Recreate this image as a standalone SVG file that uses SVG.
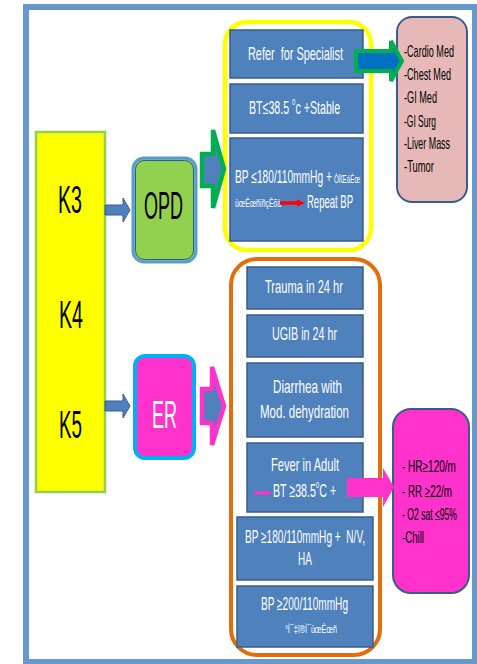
<svg xmlns="http://www.w3.org/2000/svg" width="477" height="664" viewBox="0 0 477 664">
<style>
text{font-family:"Liberation Sans",Arial,sans-serif}
.bx{fill:#4f81bd;stroke:#385d8a;stroke-width:1.5}
.wt{fill:#ffffff;font-size:19px}
.wm{fill:#ffffff;font-size:18px}
.gb{fill:#ffffff;font-size:10px}
.bk{fill:#000000;font-size:16px}
.big{font-size:39px}
.sm{fill:#4f81bd;stroke:#385d8a;stroke-width:1}
</style>
<rect x="0" y="0" width="477" height="664" fill="#ffffff"/>
<rect id="frame" x="26" y="7" width="449" height="655" fill="none" stroke="#6699cc" stroke-width="6"/>

<g id="levels">
<rect x="36" y="132" width="69" height="360" fill="#ffff00" stroke="#92d050" stroke-width="2.5"/>
<text class="big" transform="translate(58,213) scale(0.5,1)" textLength="48" lengthAdjust="spacingAndGlyphs">K3</text>
<text class="big" transform="translate(59,328) scale(0.5,1)" textLength="48" lengthAdjust="spacingAndGlyphs">K4</text>
<text class="big" transform="translate(59,438) scale(0.5,1)" textLength="46" lengthAdjust="spacingAndGlyphs">K5</text>
</g>

<g id="opd">
<rect x="133" y="158" width="63" height="104" rx="11" fill="#92d050" stroke="#5b9bd5" stroke-width="3"/>
<rect x="135.5" y="160.5" width="58" height="99" rx="9" fill="none" stroke="#1f5fa0" stroke-width="1"/>
<text transform="translate(144,219) scale(0.5,1)" font-size="38" fill="#000" textLength="78" lengthAdjust="spacingAndGlyphs">OPD</text>
</g>

<g id="er">
<rect x="135" y="356" width="59" height="102" rx="10" fill="#ff33cc" stroke="#00b0f0" stroke-width="4"/>
<text transform="translate(152,428) scale(0.5,1)" font-size="38" fill="#fff" textLength="50" lengthAdjust="spacingAndGlyphs">ER</text>
</g>

<g id="opd-group">
<rect x="225" y="22" width="146" height="228" rx="22" fill="#ffffff" stroke="#ffff00" stroke-width="4.5"/>
<g id="refer">
<rect class="bx" x="230" y="30" width="133" height="48"/>
<text class="wt" xml:space="preserve" transform="translate(248,60) scale(0.58,1)" textLength="163.8" lengthAdjust="spacingAndGlyphs">Refer  for Specialist</text>
</g>
<g id="bt-stable">
<rect class="bx" x="230" y="84" width="133" height="49"/>
<text class="wt" transform="translate(249,114) scale(0.56,1)">BT≤38.5 <tspan font-size="11" dy="-9">o</tspan><tspan dy="9">c +Stable</tspan></text>
</g>
<g id="bp-opd">
<rect class="bx" x="230" y="138" width="133" height="103"/>
<text class="wm" transform="translate(235,183) scale(0.58,1)" textLength="167.2" lengthAdjust="spacingAndGlyphs">BP ≤180/110mmHg +</text>
<text class="gb" transform="translate(334,183) scale(0.58,1)" textLength="45" lengthAdjust="spacingAndGlyphs">ÒÏŒáÊœ</text>
<text class="gb" transform="translate(235,207) scale(0.58,1)" textLength="79.3" lengthAdjust="spacingAndGlyphs">ùœÊœñïñçÊõà</text>
<polygon points="280,201.3 297,201.3 297,199.3 305,203 297,206.7 297,204.7 280,204.7" fill="#ff0000"/>
<text class="wm" transform="translate(307,208) scale(0.58,1)" textLength="79.3" lengthAdjust="spacingAndGlyphs">Repeat BP</text>
</g>
</g>

<g id="specialists">
<rect x="397" y="17" width="70" height="185" rx="15" fill="#e6b9b8" stroke="#385d8a" stroke-width="2"/>
<text class="bk" transform="translate(404,57) scale(0.57,1)" textLength="87.7" lengthAdjust="spacingAndGlyphs">-Cardio Med</text>
<text class="bk" transform="translate(404,80) scale(0.57,1)" textLength="82.5" lengthAdjust="spacingAndGlyphs">-Chest Med</text>
<text class="bk" transform="translate(404,103) scale(0.57,1)" textLength="57.9" lengthAdjust="spacingAndGlyphs">-GI Med</text>
<text class="bk" transform="translate(404,127) scale(0.57,1)" textLength="56.1" lengthAdjust="spacingAndGlyphs">-GI Surg</text>
<text class="bk" transform="translate(404,149) scale(0.57,1)" textLength="80.7" lengthAdjust="spacingAndGlyphs">-Liver Mass</text>
<text class="bk" transform="translate(404,172) scale(0.57,1)" textLength="52.6" lengthAdjust="spacingAndGlyphs">-Tumor</text>
</g>

<g id="er-group">
<rect x="231" y="259" width="149" height="396" rx="26" fill="#ffffff" stroke="#e46c0a" stroke-width="4"/>
<g id="trauma">
<rect class="bx" x="247" y="267" width="116" height="42"/>
<text class="wt" transform="translate(265,293) scale(0.58,1)" textLength="134.5" lengthAdjust="spacingAndGlyphs">Trauma in 24 hr</text>
</g>
<g id="ugib">
<rect class="bx" x="247" y="315" width="116" height="42"/>
<text class="wt" transform="translate(272,340) scale(0.58,1)" textLength="112" lengthAdjust="spacingAndGlyphs">UGIB in 24 hr</text>
</g>
<g id="diarrhea">
<rect class="bx" x="247" y="363" width="116" height="74"/>
<text class="wt" transform="translate(273,393) scale(0.58,1)" textLength="119" lengthAdjust="spacingAndGlyphs">Diarrhea with</text>
<text class="wt" transform="translate(260,418) scale(0.58,1)" textLength="153.4" lengthAdjust="spacingAndGlyphs">Mod. dehydration</text>
</g>
<g id="fever">
<rect class="bx" x="247" y="443" width="116" height="69"/>
<text class="wt" transform="translate(271,471) scale(0.58,1)" textLength="117.2" lengthAdjust="spacingAndGlyphs">Fever in Adult</text>
<polygon points="254,491.6 266,491.6 266,489.6 271,493 266,496.4 266,494.4 254,494.4" fill="#ff33cc"/>
<text class="wt" transform="translate(273,497) scale(0.56,1)">BT ≥38.5<tspan font-size="11" dy="-9">o</tspan><tspan dy="9">C +</tspan></text>
</g>
<g id="bp180">
<rect class="bx" x="237" y="517" width="136" height="63"/>
<text class="wm" xml:space="preserve" transform="translate(245,543) scale(0.58,1)" textLength="206.9" lengthAdjust="spacingAndGlyphs">BP ≥180/110mmHg +  N/V,</text>
<text class="wm" transform="translate(298,565) scale(0.58,1)" textLength="24.1" lengthAdjust="spacingAndGlyphs">HA</text>
</g>
<g id="bp200">
<rect class="bx" x="237" y="586" width="136" height="61"/>
<text class="wm" transform="translate(261,610) scale(0.58,1)" textLength="150" lengthAdjust="spacingAndGlyphs">BP ≥200/110mmHg</text>
<text class="gb" transform="translate(285,633) scale(0.58,1)" textLength="89.7" lengthAdjust="spacingAndGlyphs">°Ì¯‡î®Ì¯ùœÊœñ</text>
</g>
</g>

<g id="signs">
<rect x="393" y="409" width="76" height="184" rx="18" fill="#ff33cc" stroke="#385d8a" stroke-width="2"/>
<text class="bk" transform="translate(402,472) scale(0.57,1)" textLength="94.7" lengthAdjust="spacingAndGlyphs">- HR≥120/m</text>
<text class="bk" transform="translate(402,497) scale(0.57,1)" textLength="87.7" lengthAdjust="spacingAndGlyphs">- RR ≥22/m</text>
<text class="bk" transform="translate(402,520) scale(0.57,1)" textLength="96.5" lengthAdjust="spacingAndGlyphs">- O2 sat ≤95%</text>
<text class="bk" transform="translate(402,543) scale(0.57,1)" textLength="38.6" lengthAdjust="spacingAndGlyphs">-Chill</text>
</g>

<g id="connectors">
<polygon class="sm" points="105,205 123,205 123,198 130,210 123,222 123,215 105,215"/>
<polygon class="sm" points="105,401 123,401 123,394 130,406 123,418 123,411 105,411"/>
<polygon points="202,154 213,154 213,130 224,169 213,208 213,186 202,186" fill="#4f81bd" stroke="#00b050" stroke-width="4.5" stroke-linejoin="miter"/>
<polygon points="202,389 212,389 212,367 224,406 212,445 212,423 202,423" fill="#4f81bd" stroke="#ff33cc" stroke-width="4.5"/>
<polygon points="356,51 391,51 391,41 402,61 391,81 391,71 356,71" fill="#0070c0" stroke="#00b050" stroke-width="4"/>
<polygon points="347,478 383,478 383,468 394,487 383,507 383,497 347,497" fill="#ff33cc"/>
</g>
</svg>
